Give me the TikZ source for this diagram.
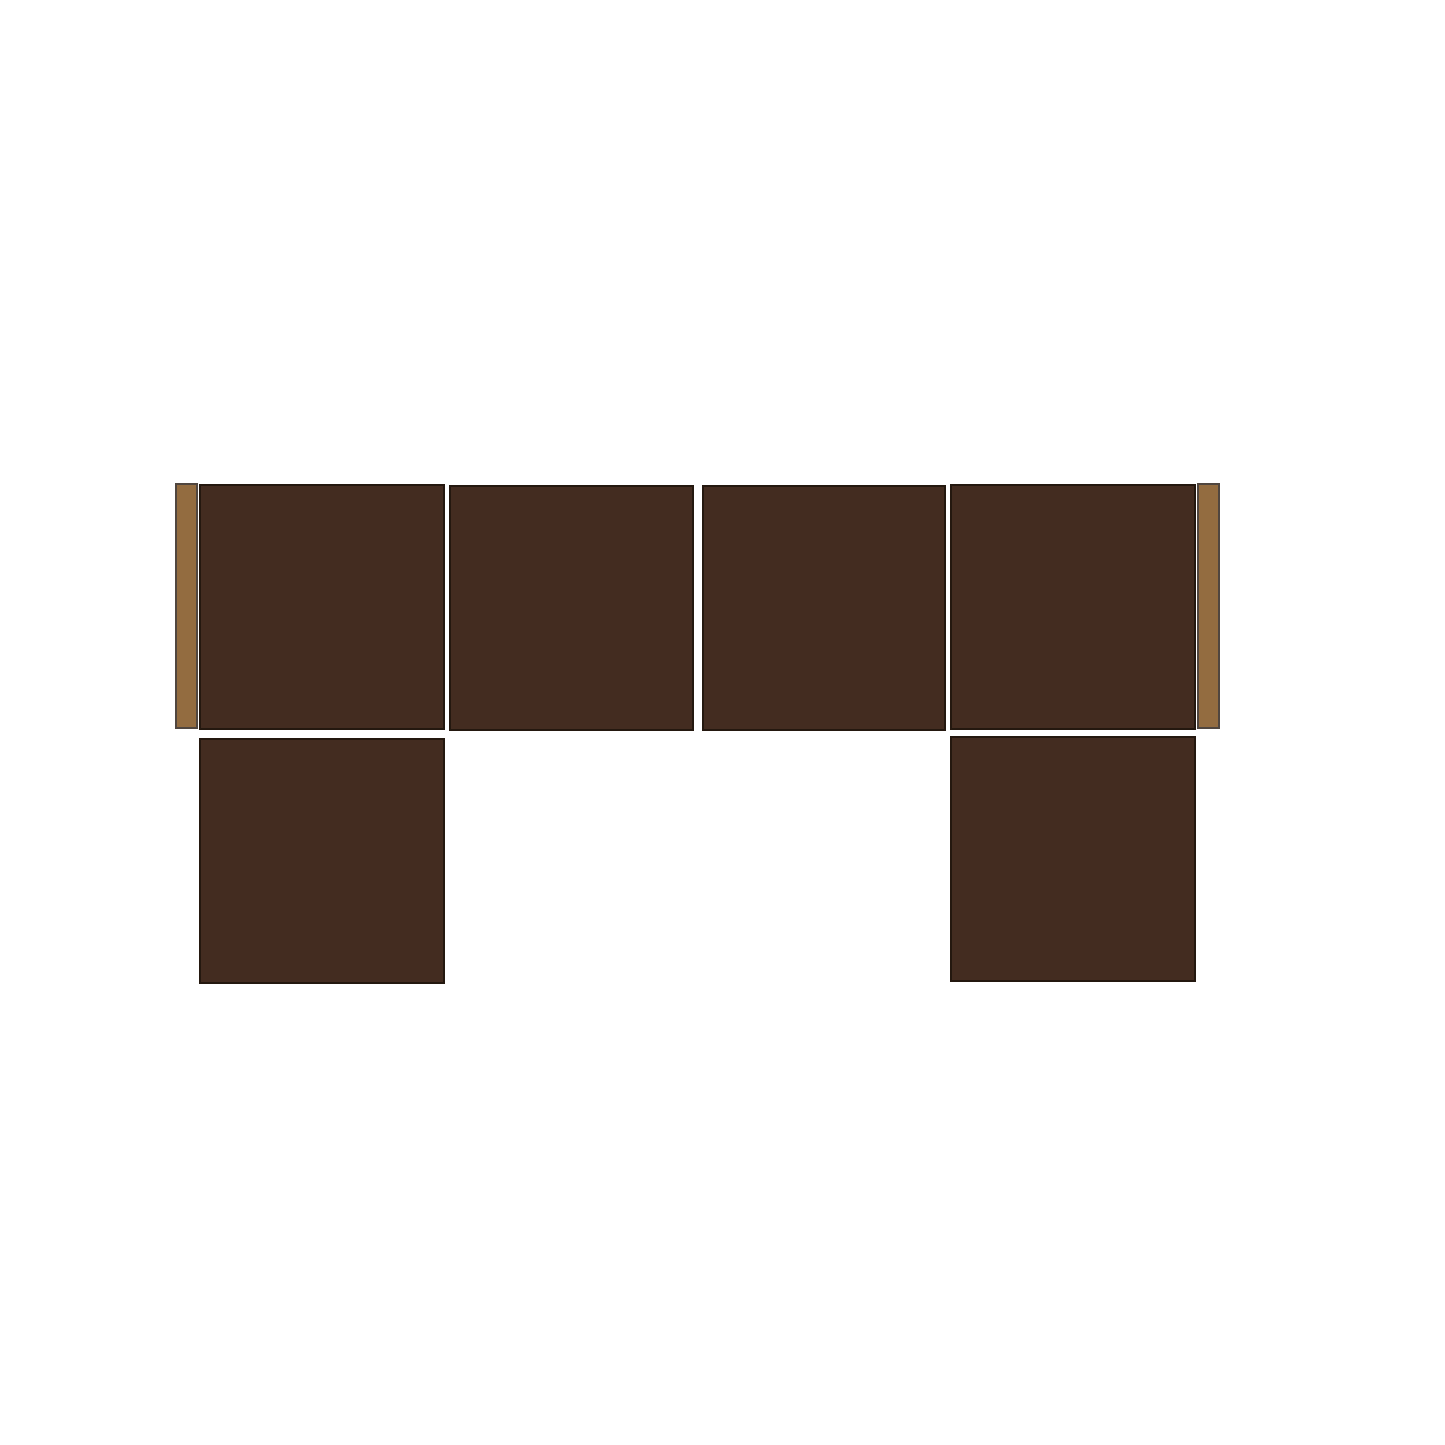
\documentclass[tikz,border=0pt]{standalone}
\usepackage{tikz}
\usetikzlibrary{backgrounds}

\definecolor{panel}{HTML}{432C20}
\definecolor{post}{HTML}{936C40}
\definecolor{edge}{HTML}{24180F}
\tikzset{panelbox/.style={draw=edge,line width=0.45pt,fill=panel},
  postbox/.style={draw=edge!80,line width=0.45pt,fill=post}}

\begin{document}
\begin{tikzpicture}[x=0.01cm,y=-0.01cm,background rectangle/.style={fill=white},show background rectangle]
  \useasboundingbox (0,0) rectangle (1445,1445);
  \path[postbox] (176,484) rectangle (197,728);
  \path[postbox] (1198,484) rectangle (1219,728);
  \path[panelbox] (200,485) rectangle (444,729);
  \path[panelbox] (450,486) rectangle (693,730);
  \path[panelbox] (703,486) rectangle (945,730);
  \path[panelbox] (951,485) rectangle (1195,729);
  \path[panelbox] (200,739) rectangle (444,983);
  \path[panelbox] (951,737) rectangle (1195,981);
\end{tikzpicture}
\end{document}
